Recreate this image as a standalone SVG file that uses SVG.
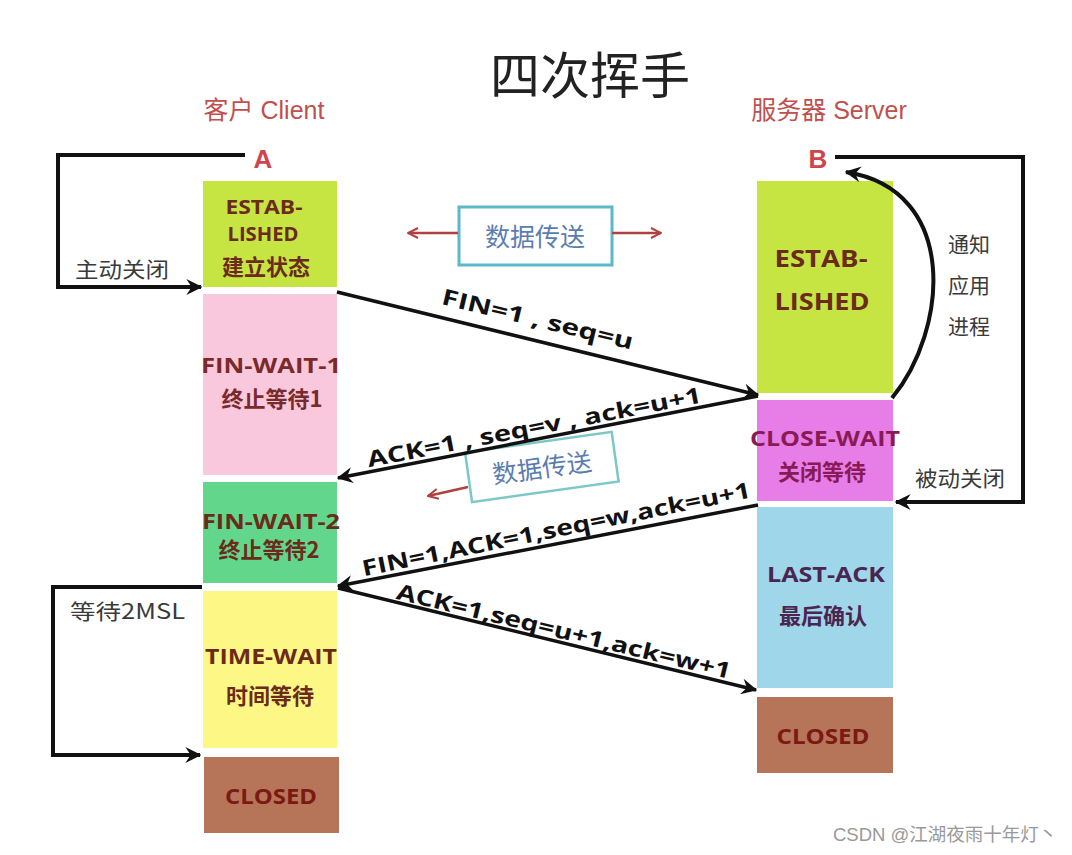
<svg xmlns="http://www.w3.org/2000/svg" width="1072" height="855" viewBox="0 0 1072 855">
<defs>
<marker id="ahb" viewBox="0 0 12 12" refX="11" refY="6" markerWidth="16" markerHeight="16" markerUnits="userSpaceOnUse" orient="auto">
<path d="M0,0 L12,6 L0,12 L4,6 z" fill="#111"/>
</marker>
<marker id="ahr" viewBox="0 0 12 12" refX="11" refY="6" markerWidth="12" markerHeight="12" markerUnits="userSpaceOnUse" orient="auto">
<path d="M1,1 L11,6 L1,11" fill="none" stroke="#b0413e" stroke-width="2"/>
</marker>
</defs>
<style>
.st{font-family:"Open Sans","DejaVu Sans","Noto Sans CJK SC",sans-serif;font-weight:700;text-anchor:middle;dominant-baseline:central}
.cn{font-family:"Noto Sans CJK SC",sans-serif;font-weight:700;font-size:22px;text-anchor:middle;dominant-baseline:central}
.lbl{font-family:"Open Sans","DejaVu Sans",sans-serif;font-weight:700;font-size:22px;fill:#111;text-anchor:middle;dominant-baseline:central}
.note{font-family:"Noto Sans CJK SC",sans-serif;font-size:21px;fill:#3a3a3a;dominant-baseline:central}
.line{fill:none;stroke:#111;stroke-width:4}
.msg{fill:none;stroke:#111;stroke-width:3.5}
.red{fill:none;stroke:#b0413e;stroke-width:2.5}
.hdr{font-family:"Liberation Sans","Noto Sans CJK SC",sans-serif;font-size:25px;fill:#c0504d;text-anchor:middle;dominant-baseline:central}
.ab{font-family:"Liberation Sans",sans-serif;font-weight:700;font-size:26px;fill:#d0454b;text-anchor:middle;dominant-baseline:central}
.dt{font-family:"Noto Sans CJK SC",sans-serif;font-size:25px;fill:#5a7db0;text-anchor:middle;dominant-baseline:central}
.br{fill:#6b2a1a}
</style>
<rect width="1072" height="855" fill="#fff"/>

<text x="590" y="72" font-family="Noto Sans CJK SC, sans-serif" font-size="50" fill="#222" text-anchor="middle" dominant-baseline="central">四次挥手</text>
<text class="hdr" x="264" y="110">客户 Client</text>
<text class="hdr" x="829" y="110">服务器 Server</text>
<text class="ab" x="263" y="159">A</text>
<text class="ab" x="818" y="159">B</text>

<g id="client-established">
<rect x="203" y="181" width="134" height="106" fill="#c6e543"/>
<text class="st br" x="264" y="207" font-size="19" textLength="77" lengthAdjust="spacingAndGlyphs">ESTAB-</text>
<text class="st br" x="263" y="234" font-size="19" textLength="71" lengthAdjust="spacingAndGlyphs">LISHED</text>
<text class="cn br" x="266" y="265" font-size="21">建立状态</text>
</g>
<g id="client-finwait1">
<rect x="203" y="294" width="134" height="181" fill="#f9c8dc"/>
<text class="st" x="271" y="364" font-size="22" fill="#7a2a2a" textLength="140" lengthAdjust="spacingAndGlyphs">FIN-WAIT-1</text>
<text class="cn" x="272" y="397" fill="#7a2a2a">终止等待1</text>
</g>
<g id="client-finwait2">
<rect x="203" y="482" width="134" height="101" fill="#62d78c"/>
<text class="st br" x="271" y="520" font-size="22" textLength="138" lengthAdjust="spacingAndGlyphs">FIN-WAIT-2</text>
<text class="cn br" x="269" y="548">终止等待2</text>
</g>
<g id="client-timewait">
<rect x="203" y="591" width="134" height="157" fill="#fdf885"/>
<text class="st br" x="271" y="655" font-size="22" textLength="132" lengthAdjust="spacingAndGlyphs">TIME-WAIT</text>
<text class="cn br" x="270" y="694">时间等待</text>
</g>
<g id="client-closed">
<rect x="204" y="757" width="135" height="76" fill="#b67459"/>
<text class="st" x="271" y="795" font-size="22" fill="#7a1a12" textLength="92" lengthAdjust="spacingAndGlyphs">CLOSED</text>
</g>

<g id="server-established">
<rect x="757" y="181" width="136" height="212" fill="#c6e543"/>
<text class="st br" x="821" y="257" font-size="24" textLength="93" lengthAdjust="spacingAndGlyphs">ESTAB-</text>
<text class="st br" x="822" y="300" font-size="24" textLength="95" lengthAdjust="spacingAndGlyphs">LISHED</text>
</g>
<g id="server-closewait">
<rect x="757" y="400" width="136" height="101" fill="#e77ee8"/>
<text class="st" x="825" y="437" font-size="22" fill="#8a1a55" textLength="150" lengthAdjust="spacingAndGlyphs">CLOSE-WAIT</text>
<text class="cn" x="822" y="470" fill="#8a1a55">关闭等待</text>
</g>
<g id="server-lastack">
<rect x="757" y="507" width="136" height="181" fill="#9fd6e9"/>
<text class="st" x="826" y="573" font-size="22" fill="#4a2550" textLength="118" lengthAdjust="spacingAndGlyphs">LAST-ACK</text>
<text class="cn" x="823" y="614" fill="#4a2550">最后确认</text>
</g>
<g id="server-closed">
<rect x="757" y="697" width="136" height="76" fill="#b67459"/>
<text class="st" x="823" y="735" font-size="22" fill="#7a1a12" textLength="93" lengthAdjust="spacingAndGlyphs">CLOSED</text>
</g>

<g id="data-transfer-1">
<rect x="459" y="207" width="153" height="58" fill="#fff" stroke="#5ab8c8" stroke-width="3"/>
<text class="dt" x="535" y="235">数据传送</text>
</g>
<g id="data-transfer-2" transform="rotate(-8 542 468)">
<rect x="468" y="442" width="148" height="50" fill="#fff" stroke="#7cc8c8" stroke-width="2.5"/>
<text class="dt" x="542" y="466">数据传送</text>
</g>

<g id="connectors">
<line class="red" x1="458" y1="233" x2="408" y2="233" marker-end="url(#ahr)"/>
<line class="red" x1="612" y1="233" x2="661" y2="233" marker-end="url(#ahr)"/>
<line class="red" x1="468" y1="487" x2="428" y2="496" marker-end="url(#ahr)"/>

<polyline class="line" points="245,155 58,155 58,287 201,287" marker-end="url(#ahb)"/>
<polyline class="line" points="835,157 1023,157 1023,502 896,502" marker-end="url(#ahb)"/>
<polyline class="line" points="202,587 53,587 53,755 200,755" marker-end="url(#ahb)"/>
<path class="line" d="M892,398 C948,330 960,190 846,172" marker-end="url(#ahb)"/>

<line class="msg" x1="337" y1="292" x2="758" y2="395" marker-end="url(#ahb)"/>
<line class="msg" x1="758" y1="396" x2="338" y2="478" marker-end="url(#ahb)"/>
<line class="msg" x1="758" y1="505" x2="338" y2="586" marker-end="url(#ahb)"/>
<line class="msg" x1="338" y1="588" x2="756" y2="690" marker-end="url(#ahb)"/>

<text class="lbl" transform="translate(538 318) rotate(13.5)" textLength="196" lengthAdjust="spacingAndGlyphs">FIN=1 , seq=u</text>
<text class="lbl" transform="translate(534 426) rotate(-11)" textLength="340" lengthAdjust="spacingAndGlyphs">ACK=1 , seq=v , ack=u+1</text>
<text class="lbl" transform="translate(556 528) rotate(-11.5)" textLength="396" lengthAdjust="spacingAndGlyphs">FIN=1,ACK=1,seq=w,ack=u+1</text>
<text class="lbl" transform="translate(564 630) rotate(13.5)" textLength="343" lengthAdjust="spacingAndGlyphs">ACK=1,seq=u+1,ack=w+1</text>

<text class="note" x="75" y="268" textLength="94" lengthAdjust="spacingAndGlyphs">主动关闭</text>
<text class="note" x="915" y="477" textLength="90" lengthAdjust="spacingAndGlyphs">被动关闭</text>
<text class="note" x="70" y="610" textLength="115" lengthAdjust="spacingAndGlyphs">等待2MSL</text>
<text class="note" x="948" y="243">通知</text>
<text class="note" x="948" y="284">应用</text>
<text class="note" x="948" y="325">进程</text>
</g>

<text x="833" y="834" font-family="Liberation Sans, Noto Sans CJK SC, sans-serif" font-size="18.5" fill="#999" dominant-baseline="central">CSDN @江湖夜雨十年灯丶</text>
</svg>
